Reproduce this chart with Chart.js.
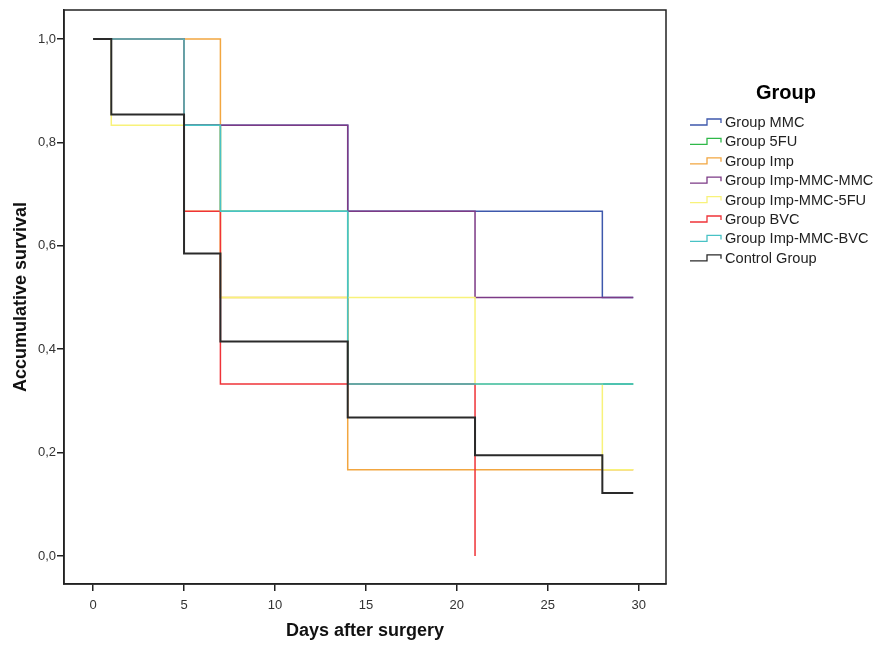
<!DOCTYPE html>
<html>
<head>
<meta charset="utf-8">
<script src="https://cdn.jsdelivr.net/npm/chart.js@4"></script>
<style>
  html, body { margin: 0; padding: 0; background: #fff; }
  #wrap { width: 879px; height: 646px; position: relative; }
</style>
</head>
<body>
<div id="wrap"><canvas id="canva" width="879" height="646"></canvas></div>
<script>
// grupos y colores
var grupos = ["Group MMC", "Group 5FU", "Group Imp", "Group Imp-MMC-MMC",
  "Group Imp-MMC-5FU", "Group BVC", "Group Imp-MMC-BVC", "Control Group"];
var colores = ["#3E58AC", "#2EB848", "#F2A640", "#7C3A86",
  "#F8F27A", "#EF3338", "#48C2C5", "#2a2a2a"];

// tiempos (días) y supervivencia acumulada de cada grupo
var t_mmc = [0, 5, 14, 28, 29.7];
var s_mmc = [1, 0.833, 0.667, 0.5, 0.5];
var t_5fu = [0, 5, 7, 14, 29.7];
var s_5fu = [1, 0.833, 0.667, 0.333, 0.333];
var t_imp = [0, 7, 14, 29.7];
var s_imp = [1, 0.5, 0.167, 0.167];
var t_imm = [0, 5, 14, 21, 29.7];
var s_imm = [1, 0.833, 0.667, 0.5, 0.5];
var t_im5 = [0, 1, 5, 7, 21, 28, 29.7];
var s_im5 = [1, 0.833, 0.667, 0.5, 0.333, 0.167, 0.167];
var t_bvc = [0, 5, 7, 21];
var s_bvc = [1, 0.667, 0.333, 0];
var t_imb = [0, 5, 7, 14, 29.7];
var s_imb = [1, 0.833, 0.667, 0.333, 0.333];
var t_ctl = [0, 1, 5, 7, 14, 21, 28, 29.7];
var s_ctl = [1, 0.854, 0.585, 0.415, 0.268, 0.195, 0.122, 0.122];

var tiempos = [t_mmc, t_5fu, t_imp, t_imm, t_im5, t_bvc, t_imb, t_ctl];
var superv = [s_mmc, s_5fu, s_imp, s_imm, s_im5, s_bvc, s_imb, s_ctl];

var x_ticks = [0, 5, 10, 15, 20, 25, 30];
var y_ticks = [0, 0.2, 0.4, 0.6, 0.8, 1.0];

var FUENTE = "'Liberation Sans', Arial, sans-serif";

var datasets = [];
for (let i = 0; i < grupos.length; i++) {
  var puntos = [];
  for (let n = 0; n < tiempos[i].length; n++) {
    puntos.push({ x: tiempos[i][n], y: superv[i][n] });
  }
  datasets.push({
    label: grupos[i],
    data: puntos,
    borderColor: colores[i],
    backgroundColor: colores[i],
    borderWidth: i == 7 ? 2 : 1.5,
    stepped: 'before',
    pointRadius: 0,
    fill: false,
    order: grupos.length - i   // los últimos grupos quedan encima
  });
}

// caja del gráfico y leyenda a la derecha
var cajaYLeyenda = {
  id: 'cajaYLeyenda',
  afterDraw(chart) {
    var c = chart.ctx;
    var a = chart.chartArea;
    c.save();
    c.strokeStyle = "#222";
    c.lineWidth = 1.5;
    c.strokeRect(a.left, a.top, a.right - a.left, a.bottom - a.top);

    c.fillStyle = "#000";
    c.font = "bold 20px " + FUENTE;
    c.textAlign = "center";
    c.textBaseline = "middle";
    c.fillText("Group", 786, 93);

    c.font = "14.6px " + FUENTE;
    c.textAlign = "left";
    for (let i = 0; i < grupos.length; i++) {
      var y = 122 + i * 19.4;
      c.strokeStyle = colores[i];
      c.lineWidth = 1.3;
      c.beginPath();
      c.moveTo(690, y + 3);
      c.lineTo(707, y + 3);
      c.lineTo(707, y - 3);
      c.lineTo(721, y - 3);
      c.lineTo(721, y + 1);
      c.stroke();
      c.fillStyle = "#222";
      c.fillText(grupos[i], 725, y + 1);
    }
    c.restore();
  }
};

const ctx = document.getElementById('canva');
const myChart = new Chart(ctx, {
  type: 'line',
  data: { datasets: datasets },
  plugins: [cajaYLeyenda],
  options: {
    responsive: false,
    animation: false,
    layout: { padding: { top: 10, right: 213, left: 0, bottom: 0 } },
    plugins: {
      legend: { display: false },
      tooltip: { enabled: false }
    },
    scales: {
      x: {
        type: 'linear',
        min: -1.6,
        max: 31.5,
        afterFit: function (s) { s.height = 62; },
        afterBuildTicks: function (s) { s.ticks = x_ticks.map(v => ({ value: v })); },
        grid: { drawOnChartArea: false, tickLength: 7, color: "#222", lineWidth: 1.5 },
        border: { display: true, color: "#222", width: 1.5 },
        ticks: {
          color: "#333",
          padding: 7,
          font: { family: FUENTE, size: 13 },
          callback: v => String(v)
        },
        title: {
          display: true,
          text: 'Days after surgery',
          color: "#111",
          font: { family: FUENTE, size: 18, weight: 'bold' },
          padding: { top: 6 }
        }
      },
      y: {
        type: 'linear',
        min: -0.054,
        max: 1.056,
        afterFit: function (s) { s.width = 64; },
        afterBuildTicks: function (s) { s.ticks = y_ticks.map(v => ({ value: v })); },
        grid: { drawOnChartArea: false, tickLength: 7, color: "#222", lineWidth: 1.5 },
        border: { display: true, color: "#222", width: 1.5 },
        ticks: {
          color: "#333",
          padding: 1,
          font: { family: FUENTE, size: 13 },
          callback: v => v.toFixed(1).replace(".", ",")
        },
        title: {
          display: true,
          text: 'Accumulative survival',
          color: "#111",
          font: { family: FUENTE, size: 18, weight: 'bold' },
          padding: { top: 10, bottom: 0 }
        }
      }
    }
  }
});
</script>
</body>
</html>
